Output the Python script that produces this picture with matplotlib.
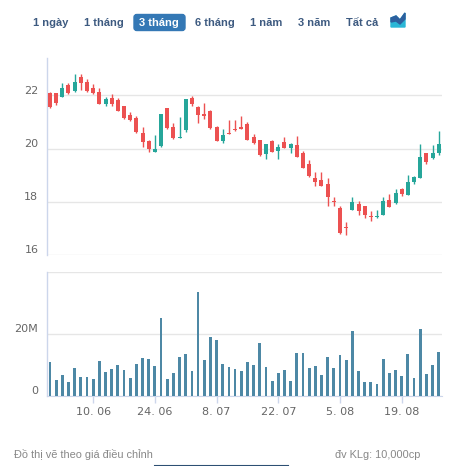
import matplotlib
matplotlib.use('Agg')
import matplotlib.pyplot as plt
import matplotlib.transforms as mtransforms
from matplotlib.lines import Line2D
from matplotlib.patches import FancyBboxPatch, Polygon

# du lieu gia (30.05.2024 - 27.08.2024)
opens  = [22.10, 22.09, 21.94, 22.39, 22.16, 22.70, 22.48, 22.29, 22.14, 21.69,
          21.89, 21.81, 21.58, 21.25, 21.13, 20.60, 20.29, 19.87, 20.08, 21.51,
          20.79, 20.41, 20.70, 21.88, 21.56, 21.29, 21.41, 20.81, 20.29, 20.60,
          20.75, 20.79, 20.93, 20.42, 20.31, 19.80, 20.28, 19.89, 20.26, 20.02,
          20.13, 19.83, 19.41, 18.89, 18.81, 18.66, 18.02, 17.75, 17.03, 17.70,
          17.91, 17.83, 17.47, 17.41, 17.51, 18.06, 17.95, 18.48, 18.26, 18.75,
          18.91, 19.83, 19.66, 19.83]
highs  = [22.12, 22.10, 22.45, 22.45, 22.79, 22.79, 22.60, 22.41, 22.26, 21.95,
          22.04, 21.88, 21.60, 21.37, 21.22, 20.81, 20.31, 20.50, 21.30, 21.52,
          20.94, 21.20, 21.87, 21.97, 21.60, 21.70, 21.45, 20.83, 20.73, 21.06,
          21.06, 21.22, 21.00, 20.56, 20.33, 20.17, 20.32, 20.16, 20.42, 20.20,
          20.47, 19.89, 19.56, 19.10, 19.10, 18.88, 18.16, 17.85, 17.23, 18.16,
          18.01, 17.84, 17.66, 17.69, 18.19, 18.29, 18.48, 18.50, 19.00, 18.96,
          20.16, 19.85, 20.13, 20.66]
lows   = [21.54, 21.62, 21.92, 22.04, 22.14, 22.19, 22.14, 22.04, 21.67, 21.60,
          21.60, 21.40, 21.11, 21.05, 20.60, 20.06, 19.87, 19.86, 20.04, 20.75,
          20.35, 20.40, 20.62, 21.60, 20.95, 21.10, 20.74, 20.27, 20.19, 20.54,
          20.66, 20.72, 20.31, 20.17, 19.72, 19.62, 19.86, 19.62, 20.01, 19.85,
          19.68, 19.25, 18.94, 18.60, 18.58, 17.85, 17.83, 16.79, 16.76, 17.68,
          17.51, 17.39, 17.29, 17.40, 17.50, 17.79, 17.93, 18.22, 18.24, 18.66,
          18.89, 19.41, 19.60, 19.75]
closes = [21.56, 21.70, 22.29, 22.08, 22.48, 22.46, 22.16, 22.08, 21.69, 21.86,
          21.66, 21.41, 21.13, 21.07, 20.62, 20.26, 20.00, 19.98, 21.29, 20.77,
          20.39, 20.45, 21.85, 21.66, 21.25, 21.21, 20.76, 20.29, 20.50, 20.55,
          20.70, 20.74, 20.33, 20.19, 19.74, 20.16, 19.88, 20.04, 20.03, 20.16,
          19.70, 19.28, 18.96, 18.75, 18.60, 18.19, 18.00, 16.81, 17.01, 18.00,
          17.66, 17.51, 17.41, 17.46, 18.01, 17.81, 18.33, 18.29, 18.76, 18.94,
          19.70, 19.50, 19.85, 20.16]
# khoi luong (trieu)
volumes = [11.1, 5.3, 6.8, 4.6, 9.0, 6.1, 6.1, 5.5, 11.4, 7.8,
           8.7, 10.0, 8.5, 5.8, 10.3, 12.3, 11.9, 9.8, 25.2, 5.6,
           7.4, 12.6, 13.5, 8.2, 33.5, 11.6, 19.0, 18.1, 10.3, 9.4,
           8.6, 8.2, 11.0, 10.0, 17.1, 9.4, 4.9, 7.4, 8.4, 4.9,
           13.9, 13.9, 9.0, 9.7, 6.8, 12.6, 9.0, 13.2, 11.6, 21.0,
           8.1, 4.5, 4.5, 3.9, 11.9, 7.4, 8.4, 6.5, 13.5, 5.8,
           21.6, 7.1, 10.0, 14.2]
tick_idx = [7, 17, 27, 37, 47, 57]
tick_labels = ['10. 06', '24. 06', '8. 07', '22. 07', '5. 08', '19. 08']
buttons = ['1 ngày', '1 tháng', '3 tháng', '6 tháng', '1 năm', '3 năm', 'Tất cả']
button_x = [51, 104, 159, 215, 266, 314, 362]

RED = '#ec5151'
GREEN = '#26a69a'
VOLC = '#4d88a5'
GRID = '#e6e6e6'
AXC = '#ccd6eb'
LBL = '#666666'

W, H = 459, 466
fig = plt.figure(figsize=(W / 100, H / 100), dpi=100)

def fx(px):
    return px / W

def fy(py):
    return 1 - py / H

ax = fig.add_axes([fx(46.7), fy(255), fx(442 - 46.7), (255 - 58) / H])
axv = fig.add_axes([fx(46.7), fy(396), fx(442 - 46.7), (396 - 271.7) / H])

n = len(opens)
xs = list(range(n))
cols = [GREEN if c >= o else RED for o, c in zip(opens, closes)]
ax.vlines(xs, lows, highs, colors=cols, linewidth=1, zorder=3)
bottoms = [min(o, c) for o, c in zip(opens, closes)]
heights = [max(abs(c - o), 0.03) for o, c in zip(opens, closes)]
ax.bar(xs, heights, bottom=bottoms, width=0.65, color=cols, zorder=4)

ax.set_xlim(-0.53, 63.53)
ax.set_ylim(16, 23.4)
ax.set_yticks([16, 18, 20, 22])
ax.set_xticks([])
ax.grid(axis='y', color=GRID, linewidth=1)
ax.set_axisbelow(True)

axv.bar(xs, volumes, width=0.45, color=VOLC, zorder=3)
axv.set_xlim(-0.53, 63.53)
axv.set_ylim(0, 40)
axv.set_yticks([0, 20, 40])
axv.set_yticklabels(['0', '20M', ''])
axv.set_xticks(tick_idx)
axv.set_xticklabels(tick_labels)
axv.grid(axis='y', color=GRID, linewidth=1)
axv.set_axisbelow(True)

for a in (ax, axv):
    for s in ('top', 'right', 'bottom'):
        a.spines[s].set_visible(False)
    a.spines['left'].set_color(AXC)
    a.spines['left'].set_linewidth(1)
    a.tick_params(axis='y', length=0, pad=6, labelsize=8, labelcolor=LBL)
    a.patch.set_alpha(0)
    off = mtransforms.ScaledTranslation(0, 0.055, fig.dpi_scale_trans)
    for lab in a.get_yticklabels():
        lab.set_transform(lab.get_transform() + off)

axv.spines['bottom'].set_visible(True)
axv.spines['bottom'].set_color(AXC)
axv.tick_params(axis='x', length=5, width=1, color=AXC, pad=3, labelsize=8, labelcolor=LBL)

# nut chon khoang thoi gian
fig.patches.append(FancyBboxPatch((fx(134), fy(30.5)), fx(51), 16 / H,
                                  boxstyle='round,pad=0,rounding_size=0.006',
                                  transform=fig.transFigure, color='#3478b5'))
for bx, b in zip(button_x, buttons):
    c = 'white' if b == '3 tháng' else '#3d5a80'
    fig.text(fx(bx), fy(22.5), b, ha='center', va='center', fontsize=8,
             fontweight='bold', color=c, family=['Liberation Sans', 'DejaVu Sans'])

# icon bieu do vung
fig.patches.append(Polygon([(fx(391), fy(27)), (fx(391), fy(18)), (fx(396), fy(16)),
                            (fx(400), fy(20)), (fx(405), fy(13)), (fx(405), fy(27))],
                           closed=True, transform=fig.transFigure, color='#2ab6d6'))
fig.patches.append(Polygon([(fx(391), fy(22)), (fx(391), fy(18)), (fx(396), fy(16)),
                            (fx(400), fy(20)), (fx(405), fy(13)), (fx(405), fy(19)),
                            (fx(400), fy(24)), (fx(396), fy(21))],
                           closed=True, transform=fig.transFigure, color='#2d5f9e'))

fig.text(fx(14), fy(455), 'Đồ thị vẽ theo giá điều chỉnh', ha='left', va='center',
         fontsize=7.9, color='#888888', family=['Liberation Sans', 'DejaVu Sans'])
fig.text(fx(420), fy(455), 'đv KLg: 10,000cp', ha='right', va='center',
         fontsize=7.9, color='#888888', family=['Liberation Sans', 'DejaVu Sans'])
fig.add_artist(Line2D([fx(155), fx(288)], [fy(465.5), fy(465.5)], color='#2d4f73',
                      linewidth=1.5, transform=fig.transFigure))

fig.savefig('out.png', dpi=100)
